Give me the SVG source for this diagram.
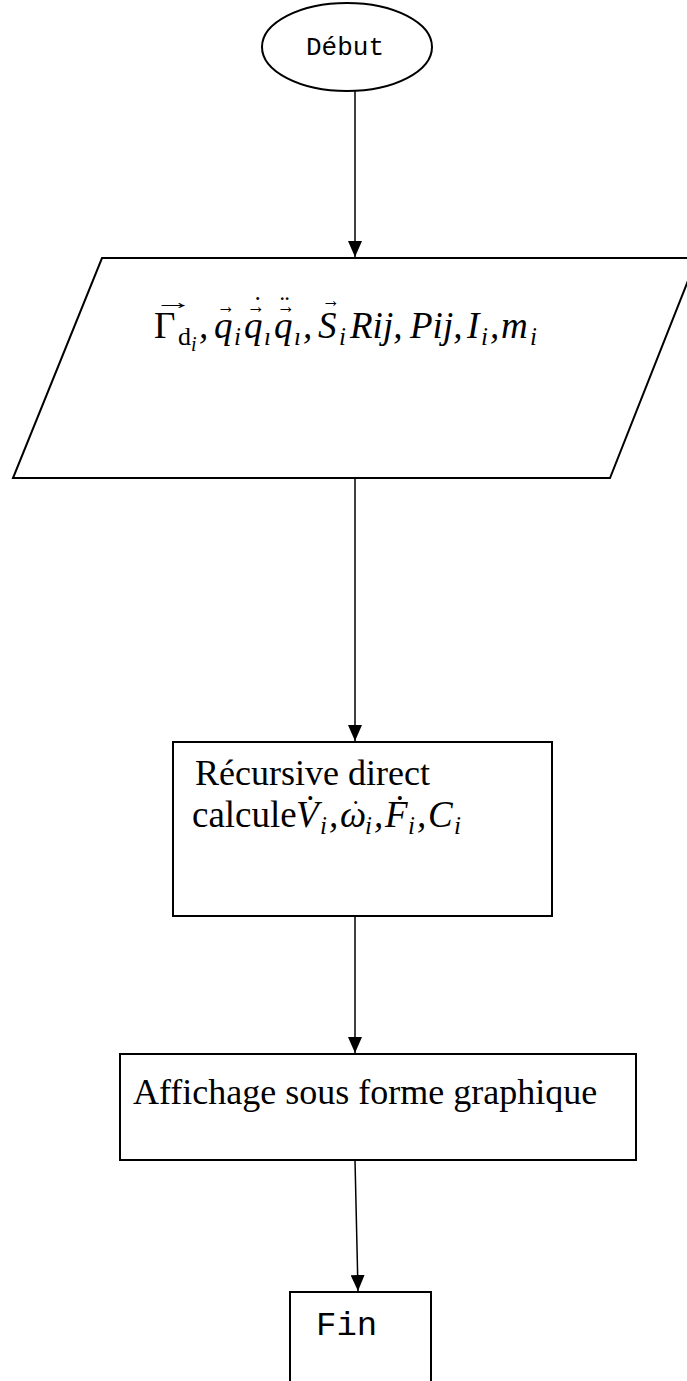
<svg xmlns="http://www.w3.org/2000/svg" width="687" height="1381" viewBox="0 0 687 1381">
<style>
.s{fill:none;stroke:#000;stroke-width:2}
.c{stroke:#000;stroke-width:1.5;fill:none}
.mono{font-family:"Liberation Mono","Courier New",monospace;fill:#000}
.tr{font-family:"Liberation Serif","Times New Roman",serif;fill:#000}
.f{font-family:"Liberation Serif","Times New Roman",serif;font-style:italic;font-size:37px;fill:#000}
.u{font-style:normal}
.sb{font-size:25px}
.ar{font-style:normal;font-size:22px;font-family:"Liberation Serif","DejaVu Serif",serif}
.dt{font-style:normal;font-size:28px}
</style>
<defs>
<marker id="ah" viewBox="0 0 16 14" refX="16" refY="7" markerWidth="16" markerHeight="14" markerUnits="userSpaceOnUse" orient="auto">
<path d="M0,0 L16,7 L0,14 z" fill="#000"/>
</marker>
</defs>
<rect width="687" height="1381" fill="#fff"/>
<g id="connectors">
<line class="c" x1="355" y1="91" x2="355" y2="257" marker-end="url(#ah)"/>
<line class="c" x1="355" y1="478" x2="355" y2="741" marker-end="url(#ah)"/>
<line class="c" x1="355" y1="916" x2="355" y2="1053" marker-end="url(#ah)"/>
<line class="c" x1="355" y1="1160" x2="358" y2="1291" marker-end="url(#ah)"/>
</g>
<g id="debut">
<ellipse class="s" cx="347" cy="47" rx="85" ry="44"/>
<text class="mono" x="345" y="55" font-size="26" text-anchor="middle">Début</text>
</g>
<g id="entrees">
<polygon class="s" points="102,258 697,258 610,478 13,478"/>
<text class="f"><tspan class="u" x="154" y="338">Γ</tspan><tspan class="u" x="178" y="345" font-size="26">d</tspan><tspan x="191" y="351" font-size="20">i</tspan><tspan x="199" y="338">,</tspan><tspan x="214" y="338">q</tspan><tspan class="sb" x="234" y="345">i</tspan><tspan x="244" y="338">q</tspan><tspan class="sb" x="264" y="345">ı</tspan><tspan x="274" y="338">q</tspan><tspan class="sb" x="294" y="345">ı</tspan><tspan x="303" y="338">,</tspan><tspan x="318" y="338">S</tspan><tspan class="sb" x="339" y="345">i</tspan><tspan x="350" y="338">Rij,</tspan><tspan x="410" y="338">Pij,</tspan><tspan x="467" y="338">I</tspan><tspan class="sb" x="481" y="345">i</tspan><tspan x="490" y="338">,</tspan><tspan x="501" y="338">m</tspan><tspan class="sb" x="530" y="345">i</tspan><tspan class="ar" x="154" y="309" textLength="39" lengthAdjust="spacingAndGlyphs">→</tspan><tspan class="ar" x="217" y="313" textLength="18" lengthAdjust="spacingAndGlyphs">→</tspan><tspan class="ar" x="247" y="313" textLength="18" lengthAdjust="spacingAndGlyphs">→</tspan><tspan class="ar" x="277" y="313" textLength="18" lengthAdjust="spacingAndGlyphs">→</tspan><tspan class="ar" x="322" y="307" textLength="18" lengthAdjust="spacingAndGlyphs">→</tspan><tspan class="dt" x="253" y="315">˙</tspan><tspan class="dt" x="280" y="315">¨</tspan></text>
</g>
<g id="recursif">
<rect class="s" x="173" y="742" width="379" height="174"/>
<text class="tr" x="195" y="785" font-size="36">Récursive direct</text>
<text class="f" font-size="36"><tspan class="u" x="192" y="827">calcule</tspan><tspan x="296" y="827">V̇</tspan><tspan class="sb" x="320" y="834">i</tspan><tspan x="329" y="827">,</tspan><tspan x="340" y="827">ω</tspan><tspan class="sb" x="365" y="834">i</tspan><tspan x="374" y="827">,</tspan><tspan x="385" y="827">Ḟ</tspan><tspan class="sb" x="408" y="834">i</tspan><tspan x="417" y="827">,</tspan><tspan x="428" y="827">C</tspan><tspan class="sb" x="454" y="834">i</tspan><tspan class="dt" x="351" y="819">˙</tspan></text>
</g>
<g id="affichage">
<rect class="s" x="120" y="1054" width="516" height="106"/>
<text class="tr" x="133" y="1104" font-size="36">Affichage sous forme graphique</text>
</g>
<g id="fin">
<polyline class="s" points="290,1381 290,1292 431,1292 431,1381"/>
<text class="mono" x="316" y="1335" font-size="34">Fin</text>
</g>
</svg>
